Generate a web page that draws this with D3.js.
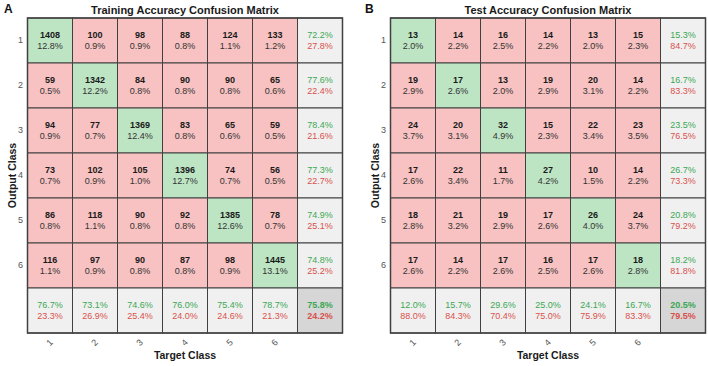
<!DOCTYPE html>
<html><head><meta charset="utf-8">
<script src="https://cdn.jsdelivr.net/npm/d3@7"></script>
<style>
html,body{margin:0;padding:0;background:#fff;}
svg{display:block;font-family:"Liberation Sans",Arial,Helvetica,sans-serif;}
</style></head>
<body><svg id="chart" width="708" height="366"></svg>
<script>
const classes = ["1","2","3","4","5","6"];

const trainCounts = [
  [1408,100,98,88,124,133],
  [59,1342,84,90,90,65],
  [94,77,1369,83,65,59],
  [73,102,105,1396,74,56],
  [86,118,90,92,1385,78],
  [116,97,90,87,98,1445]
];
const trainPcts = [
  [12.8,0.9,0.9,0.8,1.1,1.2],
  [0.5,12.2,0.8,0.8,0.8,0.6],
  [0.9,0.7,12.4,0.8,0.6,0.5],
  [0.7,0.9,1.0,12.7,0.7,0.5],
  [0.8,1.1,0.8,0.8,12.6,0.7],
  [1.1,0.9,0.8,0.8,0.9,13.1]
];
const trainRowCorrect = [72.2,77.6,78.4,77.3,74.9,74.8];
const trainRowWrong   = [27.8,22.4,21.6,22.7,25.1,25.2];
const trainColCorrect = [76.7,73.1,74.6,76.0,75.4,78.7];
const trainColWrong   = [23.3,26.9,25.4,24.0,24.6,21.3];
const trainOverall    = [75.8,24.2];

const testCounts = [
  [13,14,16,14,13,15],
  [19,17,13,19,20,14],
  [24,20,32,15,22,23],
  [17,22,11,27,10,14],
  [18,21,19,17,26,24],
  [17,14,17,16,17,18]
];
const testPcts = [
  [2.0,2.2,2.5,2.2,2.0,2.3],
  [2.9,2.6,2.0,2.9,3.1,2.2],
  [3.7,3.1,4.9,2.3,3.4,3.5],
  [2.6,3.4,1.7,4.2,1.5,2.2],
  [2.8,3.2,2.9,2.6,4.0,3.7],
  [2.6,2.2,2.6,2.5,2.6,2.8]
];
const testRowCorrect = [15.3,16.7,23.5,26.7,20.8,18.2];
const testRowWrong   = [84.7,83.3,76.5,73.3,79.2,81.8];
const testColCorrect = [12.0,15.7,29.6,25.0,24.1,16.7];
const testColWrong   = [88.0,84.3,70.4,75.0,75.9,83.3];
const testOverall    = [20.5,79.5];

const svg = d3.select("#chart");
const fmt = v => v.toFixed(1) + "%";
const C = {green:"#bde5c4", red:"#f7c2c1", gray:"#f0f0f0", dark:"#d6d6d6",
           stroke:"#404040", gtext:"#3aa853", rtext:"#d9504c"};
const FS = "9px";

function drawMatrix(cfg){
  const g = svg.append("g");
  const keys = classes.concat(["all"]);
  const x = d3.scaleBand().domain(keys).range([cfg.x0, cfg.x0 + 315]);
  const y = d3.scaleBand().domain(keys).range([18, 333]);
  const bw = x.bandwidth(), bh = y.bandwidth();

  const cells = [];
  classes.forEach((r,i)=>classes.forEach((c,j)=>cells.push({r,c,i,j})));
  const cg = g.selectAll("g.cell").data(cells).join("g")
    .attr("transform", d=>`translate(${x(d.c)},${y(d.r)})`);
  cg.append("rect").attr("width",bw).attr("height",bh)
    .attr("fill", d=>d.i===d.j?C.green:C.red)
    .attr("stroke",C.stroke).attr("stroke-width",1);
  cg.append("text").attr("x",bw/2).attr("y",bh/2-2.5).attr("text-anchor","middle")
    .attr("font-size",FS).attr("font-weight","bold").attr("fill","#1a1a1a")
    .text(d=>cfg.counts[d.i][d.j]);
  cg.append("text").attr("x",bw/2).attr("y",bh/2+8.5).attr("text-anchor","middle")
    .attr("font-size",FS).attr("fill","#333")
    .text(d=>fmt(cfg.pcts[d.i][d.j]));

  const summ = [];
  classes.forEach((r,i)=>summ.push({r, c:"all", a:cfg.rowC[i], b:cfg.rowW[i], corner:false}));
  classes.forEach((c,j)=>summ.push({r:"all", c, a:cfg.colC[j], b:cfg.colW[j], corner:false}));
  summ.push({r:"all", c:"all", a:cfg.overall[0], b:cfg.overall[1], corner:true});
  const sg = g.selectAll("g.sum").data(summ).join("g")
    .attr("transform", d=>`translate(${x(d.c)},${y(d.r)})`);
  sg.append("rect").attr("width",bw).attr("height",bh)
    .attr("fill", d=>d.corner?C.dark:C.gray)
    .attr("stroke",C.stroke).attr("stroke-width",1);
  sg.append("text").attr("x",bw/2).attr("y",bh/2-2.5).attr("text-anchor","middle")
    .attr("font-size",FS).attr("font-weight",d=>d.corner?"bold":"normal")
    .attr("fill",C.gtext).text(d=>fmt(d.a));
  sg.append("text").attr("x",bw/2).attr("y",bh/2+8.5).attr("text-anchor","middle")
    .attr("font-size",FS).attr("font-weight",d=>d.corner?"bold":"normal")
    .attr("fill",C.rtext).text(d=>fmt(d.b));

  g.append("rect").attr("x",cfg.x0).attr("y",18).attr("width",315).attr("height",315)
    .attr("fill","none").attr("stroke",C.stroke).attr("stroke-width",1.5);

  const ya = d3.scaleBand().domain(classes).range([18, 18 + bh*6]);
  const yAxis = g.append("g").attr("transform",`translate(${cfg.x0-1},0)`)
    .call(d3.axisLeft(ya).tickSize(0).tickPadding(3.5));
  yAxis.select(".domain").remove();
  yAxis.selectAll("text").attr("font-size","9px").attr("fill","#555")
    .attr("font-family","Liberation Sans,Arial,sans-serif");

  const xa = d3.scaleBand().domain(classes).range([cfg.x0, cfg.x0 + bw*6]);
  const xAxis = g.append("g").attr("transform",`translate(0,336)`)
    .call(d3.axisBottom(xa).tickSize(0).tickPadding(0));
  xAxis.select(".domain").remove();
  xAxis.selectAll("text").attr("font-size","9px").attr("fill","#555")
    .attr("font-family","Liberation Sans,Arial,sans-serif")
    .attr("dy",0).attr("y",7).attr("text-anchor","middle").attr("dominant-baseline","middle")
    .attr("transform","rotate(-45,0,7)");

  g.append("text").attr("x",cfg.x0+157.5).attr("y",14).attr("text-anchor","middle")
    .attr("font-size","11px").attr("font-weight","bold").attr("fill","#1a1a1a").text(cfg.title);
  g.append("text").attr("x",cfg.x0+157.5).attr("y",359).attr("text-anchor","middle")
    .attr("font-size","10.5px").attr("font-weight","bold").attr("fill","#1a1a1a").text("Target Class");
  g.append("text").attr("transform",`translate(${cfg.x0-12},175.5) rotate(-90)`)
    .attr("text-anchor","middle").attr("font-size","10.5px").attr("font-weight","bold")
    .attr("fill","#1a1a1a").text("Output Class");
  g.append("text").attr("x",cfg.lx).attr("y",12.5).attr("font-size","12px").attr("font-weight","bold")
    .attr("fill","#111").text(cfg.letter);
}

drawMatrix({x0:27.5, title:"Training Accuracy Confusion Matrix", letter:"A", lx:4,
  counts:trainCounts, pcts:trainPcts, rowC:trainRowCorrect, rowW:trainRowWrong,
  colC:trainColCorrect, colW:trainColWrong, overall:trainOverall});
drawMatrix({x0:390.5, title:"Test Accuracy Confusion Matrix", letter:"B", lx:365,
  counts:testCounts, pcts:testPcts, rowC:testRowCorrect, rowW:testRowWrong,
  colC:testColCorrect, colW:testColWrong, overall:testOverall});
</script></body></html>
